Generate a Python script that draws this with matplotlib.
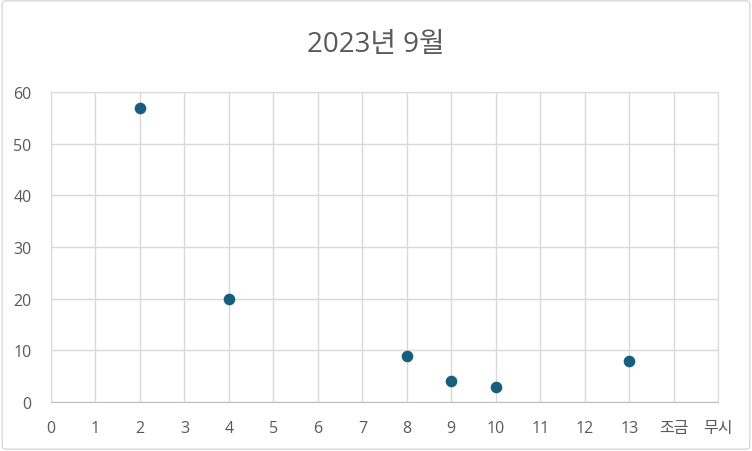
import matplotlib.pyplot as plt
from matplotlib.patches import FancyBboxPatch

plt.rcParams['font.family'] = ['Open Sans', 'Noto Sans CJK KR', 'DejaVu Sans']

x_labels = ['0', '1', '2', '3', '4', '5', '6', '7', '8', '9', '10', '11', '12', '13', '조금', '무시']
x_vals = [2, 4, 8, 9, 10, 13]
y_vals = [57, 20, 9, 4, 3, 8]

fig = plt.figure(figsize=(7.52, 4.52), dpi=100)
ax = fig.add_axes([0.0678, 0.1084, 0.8872, 0.6856])

border = FancyBboxPatch((0.003, 0.004), 0.994, 0.992, boxstyle='round,pad=0,rounding_size=0.006',
                        transform=fig.transFigure, fill=False, edgecolor='#d9d9d9', linewidth=1)
fig.patches.append(border)

ax.scatter(x_vals, y_vals, s=70, color='#175e7e', zorder=3, linewidths=0)

ax.set_xlim(0, 15)
ax.set_ylim(0, 60)
ax.set_xticks(range(len(x_labels)))
ax.set_xticklabels(x_labels)
ax.set_yticks(range(0, 61, 10))
ax.grid(True, color='#d9d9d9', linewidth=1)
for s in ax.spines.values():
    s.set_color('#d9d9d9')
ax.spines['bottom'].set_color('#bfbfbf')
ax.tick_params(length=0, colors='#595959', labelsize=11.5)
ax.tick_params(axis='x', pad=13)
ax.tick_params(axis='y', pad=14)

fig.text(0.5, 0.90, '2023년 9월', ha='center', va='center', fontsize=20, color='#595959')

fig.savefig('out.png', dpi=100)
